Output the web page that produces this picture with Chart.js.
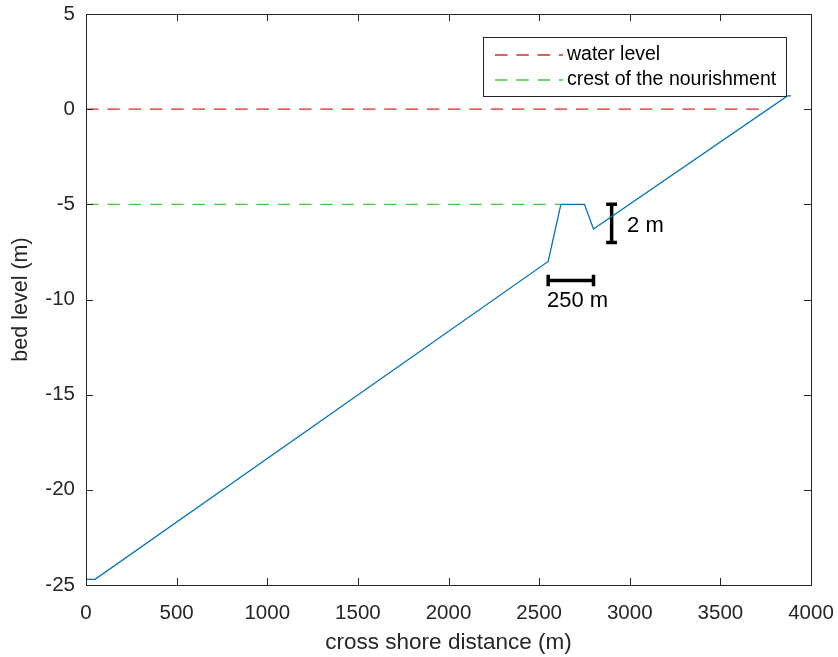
<!DOCTYPE html>
<html>
<head>
<meta charset="utf-8">
<script src="https://cdn.jsdelivr.net/npm/chart.js@4/dist/chart.umd.min.js"></script>
<style>
  html, body { margin: 0; padding: 0; background: #fff; }
  #wrap { width: 838px; height: 657px; }
</style>
</head>
<body>
<div id="wrap"><canvas id="profileChart" width="838" height="657"></canvas></div>
<script>
// Cross shore profile (m)
const bedX = [0, 50, 2550, 2620, 2750, 2800, 3870, 3890];
const bedY = [-24.7, -24.7, -8, -5, -5, -6.3, 0.7, 0.7];

// Reference levels
const waterLevel = 0;
const waterLevelEnd = 3763;
const crestLevel = -5;
const crestEnd = 2620;

// Scale bars: 2 m vertical, 250 m horizontal
const vBarX = 2900;
const vBarY = [-5, -7];
const hBarX = [2550, 2800];
const hBarY = -9;

// Axis ticks
const xTicks = [0, 500, 1000, 1500, 2000, 2500, 3000, 3500, 4000];
const yTicks = [-25, -20, -15, -10, -5, 0, 5];

const FONT = '"Liberation Sans", Arial, Helvetica, sans-serif';
const AXIS = "#262626";
const DASH = [12.5, 8.8];
const RED = "rgb(217, 40, 40)";
const GREEN = "rgb(64, 208, 64)";
const BLUE = "rgb(0, 114, 189)";

const zip = (xs, ys) => xs.map((x, i) => ({ x: x, y: ys[i] }));

// bar with end caps, caps given as half-lengths in data units
const vBar = [
  { x: vBarX - 30, y: vBarY[0] }, { x: vBarX + 30, y: vBarY[0] }, { x: vBarX, y: null },
  { x: vBarX, y: vBarY[0] }, { x: vBarX, y: vBarY[1] }, { x: vBarX, y: null },
  { x: vBarX - 30, y: vBarY[1] }, { x: vBarX + 30, y: vBarY[1] },
];
const hBar = [
  { x: hBarX[0], y: hBarY + 0.3 }, { x: hBarX[0], y: hBarY - 0.3 }, { x: hBarX[0], y: null },
  { x: hBarX[0], y: hBarY }, { x: hBarX[1], y: hBarY }, { x: hBarX[1], y: null },
  { x: hBarX[1], y: hBarY + 0.3 }, { x: hBarX[1], y: hBarY - 0.3 },
];

// box, inward ticks, legend and bar labels in MATLAB style
const axesDecor = {
  id: "axesDecor",
  afterDraw(chart) {
    const { ctx, chartArea: a, scales } = chart;
    const xs = scales.x, ys = scales.y;
    ctx.save();
    ctx.strokeStyle = AXIS;
    ctx.lineWidth = 1;
    ctx.beginPath();
    xTicks.forEach((t) => {
      const px = Math.round(xs.getPixelForValue(t)) + 0.5;
      ctx.moveTo(px, a.bottom); ctx.lineTo(px, a.bottom - 7);
      ctx.moveTo(px, a.top); ctx.lineTo(px, a.top + 7);
    });
    yTicks.forEach((t) => {
      const py = Math.round(ys.getPixelForValue(t)) + 0.5;
      ctx.moveTo(a.left, py); ctx.lineTo(a.left + 7, py);
      ctx.moveTo(a.right, py); ctx.lineTo(a.right - 7, py);
    });
    ctx.stroke();
    ctx.strokeRect(Math.round(a.left) + 0.5, Math.round(a.top) + 0.5,
      Math.round(a.right - a.left), Math.round(a.bottom - a.top));

    // legend
    const lx = 483.5, ly = 37.5, lw = 303, lh = 59;
    ctx.fillStyle = "#fff";
    ctx.fillRect(lx, ly, lw, lh);
    ctx.strokeRect(lx, ly, lw, lh);
    const rows = [
      { label: "water level", color: RED, y: 55 },
      { label: "crest of the nourishment", color: GREEN, y: 80 },
    ];
    ctx.font = "19.5px " + FONT;
    ctx.textBaseline = "middle";
    ctx.textAlign = "left";
    rows.forEach((r) => {
      ctx.strokeStyle = r.color;
      ctx.lineWidth = 1.3;
      ctx.setLineDash(DASH);
      ctx.beginPath();
      ctx.moveTo(495, r.y); ctx.lineTo(563, r.y);
      ctx.stroke();
      ctx.setLineDash([]);
      ctx.fillStyle = "#000";
      ctx.fillText(r.label, 567, r.y);
    });

    // scale bar labels
    ctx.font = "22px " + FONT;
    ctx.fillStyle = "#000";
    ctx.textAlign = "left";
    ctx.fillText("2 m", xs.getPixelForValue(2985), ys.getPixelForValue(-6.15));
    ctx.textAlign = "center";
    ctx.fillText("250 m", xs.getPixelForValue(2712), ys.getPixelForValue(-10.1));
    ctx.restore();
  },
};

const ctx = document.getElementById("profileChart").getContext("2d");
const chart = new Chart(ctx, {
  type: "scatter",
  data: {
    datasets: [
      {
        label: "water level",
        data: [{ x: 0, y: waterLevel }, { x: waterLevelEnd, y: waterLevel }],
        showLine: true,
        borderColor: RED,
        borderWidth: 1.3,
        borderDash: DASH,
        pointRadius: 0,
      },
      {
        label: "crest of the nourishment",
        data: [{ x: 0, y: crestLevel }, { x: crestEnd, y: crestLevel }],
        showLine: true,
        borderColor: GREEN,
        borderWidth: 1.3,
        borderDash: DASH,
        pointRadius: 0,
      },
      {
        label: "bed",
        data: zip(bedX, bedY),
        showLine: true,
        borderColor: BLUE,
        borderWidth: 1.3,
        pointRadius: 0,
        tension: 0,
      },
      {
        label: "2 m",
        data: vBar,
        showLine: true,
        spanGaps: false,
        borderColor: "#000",
        borderWidth: 3.5,
        pointRadius: 0,
      },
      {
        label: "250 m",
        data: hBar,
        showLine: true,
        spanGaps: false,
        borderColor: "#000",
        borderWidth: 3.5,
        pointRadius: 0,
      },
    ],
  },
  options: {
    responsive: false,
    animation: false,
    events: [],
    layout: { padding: { top: 14, right: 27, left: 0, bottom: 0 } },
    plugins: {
      legend: { display: false },
      tooltip: { enabled: false },
    },
    scales: {
      x: {
        type: "linear",
        min: 0,
        max: 4000,
        afterFit: (s) => {
          s.height = 72;
          s.paddingLeft = 0;
          s.paddingRight = 0;
        },
        afterBuildTicks: (s) => { s.ticks = xTicks.map((v) => ({ value: v })); },
        grid: { display: false, drawTicks: false },
        border: { display: false },
        ticks: {
          padding: 16,
          maxRotation: 0,
          color: AXIS,
          font: { family: FONT, size: 20.5 },
          callback: (v) => String(v),
        },
        title: {
          display: true,
          text: "cross shore distance (m)",
          color: AXIS,
          font: { family: FONT, size: 22.5 },
          padding: { top: 0, bottom: 1 },
        },
      },
      y: {
        type: "linear",
        min: -25,
        max: 5,
        afterFit: (s) => {
          s.width = 86;
          s.paddingTop = 0;
          s.paddingBottom = 0;
        },
        afterBuildTicks: (s) => { s.ticks = yTicks.map((v) => ({ value: v })); },
        grid: { display: false, drawTicks: false },
        border: { display: false },
        ticks: {
          padding: 11,
          color: AXIS,
          font: { family: FONT, size: 20.5 },
          callback: (v) => String(v),
        },
        title: {
          display: true,
          text: "bed level (m)",
          color: AXIS,
          font: { family: FONT, size: 21.5 },
          padding: { top: 8, bottom: 0 },
        },
      },
    },
  },
  plugins: [axesDecor],
});
</script>
</body>
</html>
